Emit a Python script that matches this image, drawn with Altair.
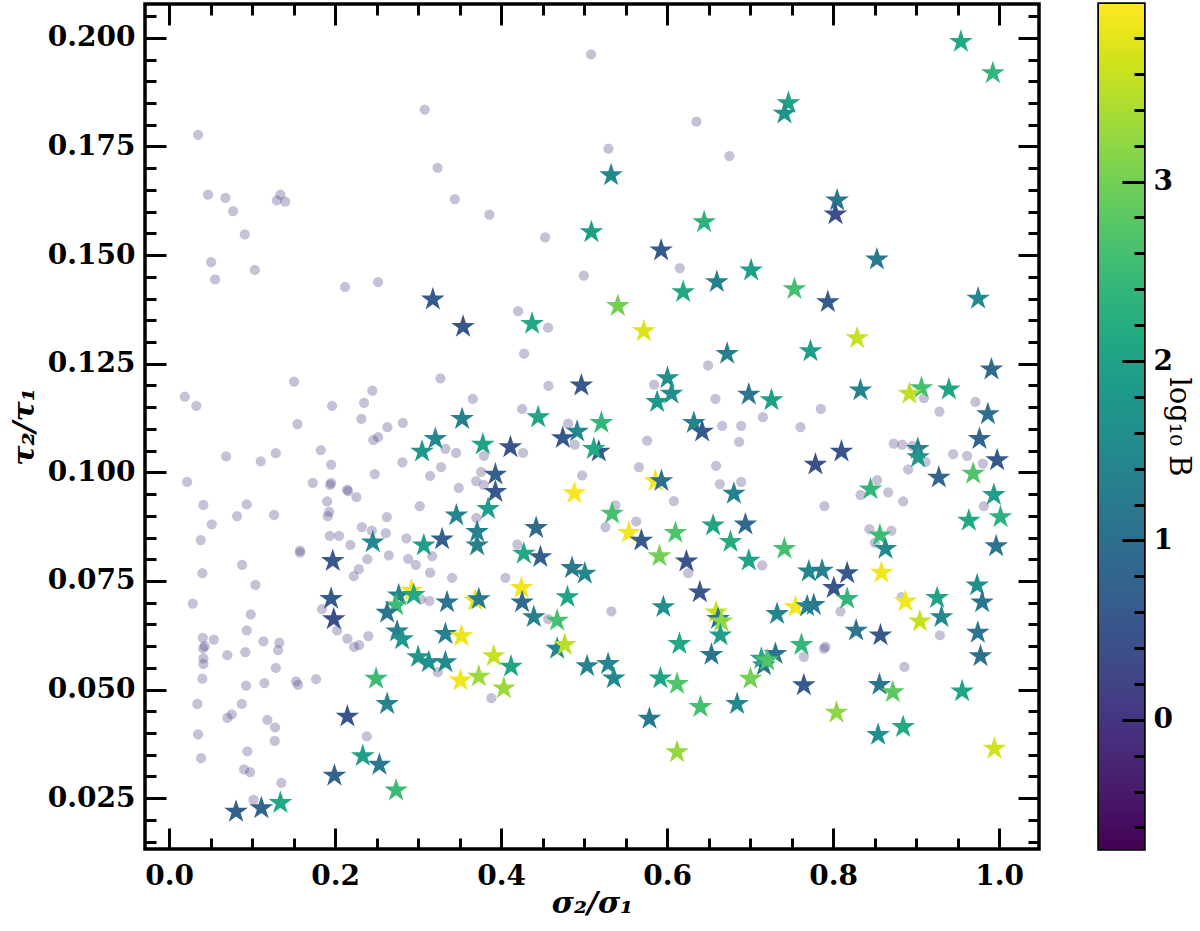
import math
import altair as alt
import pandas as pd
import numpy as np

# ---------------- data ----------------
circ_x = [0.035,0.308,0.3235,0.047,0.0678,0.0771,0.1341,0.1298,0.1398,0.0912,0.0506,0.1033,0.0554,0.212,0.2518,
0.5084,0.6353,0.5293,0.675,0.3442,0.3859,0.453,0.4996,0.6153,
0.0189,0.0329,0.1506,0.1546,0.1964,0.2449,0.2349,0.2317,0.263,0.2518,0.2461,0.2816,0.0687,0.1105,0.1286,0.1828,0.1952,0.2811,0.2478,0.3145,0.3269,0.3277,0.0217,0.1731,0.1952,0.194,0.2145,0.2157,0.2257,0.1904,0.0413,0.0936,0.0819,0.1265,0.1928,0.1912,0.2623,0.302,0.0514,0.2322,0.2442,0.2611,0.1936,0.2048,0.0382,0.2859,0.2184,0.1578,0.1578,0.2647,0.2389,0.288,0.2972,0.3169,0.088,0.0401,0.2286,0.2225,0.3145,0.104,
0.4205,0.4566,0.4277,0.457,0.3659,0.4253,0.5843,0.6494,0.6582,0.6663,0.6892,0.6867,0.4807,0.4888,0.5759,0.3329,0.3458,0.3792,0.4265,0.3759,0.3699,0.3792,0.349,0.4976,0.5659,0.659,0.6635,0.6892,0.6081,0.5377,0.3702,0.5627,0.5257,0.4196,0.341,0.4052,0.6253,
0.7852,0.7153,0.7606,0.9714,0.9281,0.9093,0.8731,0.8831,0.8952,0.9112,0.8904,0.9446,0.9614,0.9804,0.853,0.8329,0.8663,0.8843,0.7895,0.9816,0.8437,0.8702,0.8502,0.7145,
0.0286,0.0984,0.0406,0.0539,0.043,0.041,0.0936,0.1136,0.1329,0.1313,0.0702,0.0919,0.0413,0.0413,0.1286,0.0401,0.0928,0.1148,0.153,0.1554,0.1771,0.0341,0.0876,0.0755,0.0702,0.1184,0.1277,0.0349,0.1273,0.0386,0.0943,0.0904,0.0976,0.1353,0.1016,0.2382,0.1843,0.2024,0.2148,0.2229,0.2289,0.2401,0.3033,0.3136,0.3237,
0.5329,0.4566,0.3883,
0.8088,0.8823,0.9286,0.7888,0.7907,0.7647,0.8859]
circ_y = [0.1777,0.1835,0.1701,0.1639,0.1632,0.1601,0.1639,0.1626,0.1623,0.1548,0.1484,0.1466,0.1444,0.1427,0.1438,
0.1962,0.1807,0.1745,0.1728,0.1629,0.1593,0.1541,0.1453,0.147,
0.1174,0.1153,0.1209,0.1111,0.1153,0.1188,0.116,0.1123,0.1104,0.1081,0.1074,0.1114,0.1037,0.1025,0.1044,0.1051,0.1018,0.1023,0.0996,0.0992,0.1216,0.1012,0.0978,0.0976,0.0976,0.0971,0.096,0.0957,0.0943,0.0933,0.0925,0.0926,0.0899,0.0902,0.0909,0.0899,0.0897,0.0922,0.088,0.0874,0.0866,0.086,0.0854,0.0854,0.0844,0.0848,0.0833,0.082,0.0815,0.0809,0.08,0.0801,0.0787,0.0807,0.0787,0.0768,0.0777,0.0761,0.0769,0.0741,
0.1371,0.1333,0.1273,0.1199,0.1169,0.1146,0.1202,0.1246,0.1169,0.1107,0.1107,0.107,0.1112,0.1064,0.1073,0.1054,0.1045,0.1038,0.1045,0.1001,0.098,0.0971,0.0964,0.0993,0.1012,0.1015,0.0973,0.0978,0.0934,0.0924,0.0895,0.0887,0.0874,0.0834,0.0757,0.0757,0.0768,
0.1146,0.1127,0.1104,0.1162,0.114,0.1171,0.1066,0.1064,0.1061,0.1024,0.1007,0.1042,0.1038,0.102,0.0982,0.0948,0.0954,0.0933,0.0922,0.0922,0.0869,0.0866,0.0838,0.0786,
0.0698,0.0673,0.0619,0.0615,0.06,0.0595,0.0636,0.0611,0.0608,0.0591,0.0579,0.0586,0.0572,0.0559,0.055,0.0525,0.0509,0.0515,0.0519,0.0511,0.0524,0.0467,0.0467,0.0443,0.0435,0.043,0.0413,0.0397,0.0382,0.0342,0.0358,0.0316,0.031,0.0285,0.0246,0.0392,0.0685,0.0636,0.0617,0.0598,0.0602,0.0623,0.0708,0.0704,0.054,
0.068,0.0662,0.048,
0.068,0.0713,0.0625,0.0594,0.0598,0.0575,0.0552]

star_x = [0.3177,0.5325,0.5088,0.6446,0.5928,0.6193,0.6599,0.9539,0.9924,0.7461,
0.7413,0.8048,0.8028,0.8527,0.7012,0.7534,0.7936,0.9747,0.3542,0.4373,
0.5406,0.5719,0.6723,0.4967,0.6004,0.6052,0.588,0.353,0.4446,0.5208,
0.4916,0.4743,0.6322,0.6422,0.378,0.4112,0.5177,0.5117,0.3931,0.3931,
0.4883,0.5859,0.5931,0.6804,0.3843,0.3461,0.5337,0.3711,0.3711,0.4422,
0.5539,0.569,0.61,0.6554,0.6763,0.6943,0.3289,0.4273,0.4473,0.5907,
0.6233,0.4855,0.5008,0.4245,0.6984,0.6394,0.8289,0.7727,0.9907,0.6984,
0.7257,0.8329,0.9064,0.8919,0.9394,0.9864,0.9763,0.9976,0.81,0.7787,
0.902,0.9024,0.9273,0.9687,0.845,0.9936,1.0016,0.9635,0.8563,0.863,
0.9964,0.7413,0.7707,0.7867,0.8169,0.8008,0.8582,0.9735,0.1952,0.1984,
0.2919,0.2767,0.2948,0.2735,0.2627,0.3349,0.2747,0.2807,0.3329,0.3,
0.3129,0.3329,0.2494,0.2627,0.2148,0.2334,0.2534,0.1992,0.2735,0.0807,
0.1112,0.1341,0.369,0.3731,0.4253,0.4799,0.4394,0.4675,0.3522,0.4675,
0.4767,0.3912,0.412,0.351,0.3731,0.4033,0.5036,0.5289,0.5358,0.5955,
0.659,0.6614,0.6654,0.6642,0.6148,0.6534,0.5919,0.612,0.6401,0.6843,
0.5787,0.612,0.9795,0.8169,0.7325,0.7546,0.7687,0.7767,0.8871,0.9253,
0.9305,0.9045,0.8277,0.857,0.9743,0.9775,0.7618,0.7305,0.7165,0.7136,
0.7205,0.7004,0.7647,0.8558,0.8719,0.9554,0.804,0.8542,0.8843,0.9943,
0.3208,0.3048,0.2454,0.3069,0.1972]
star_y = [0.1398,0.1684,0.1553,0.1576,0.1511,0.1415,0.1438,0.1991,0.1919,0.185,
0.1826,0.1626,0.1594,0.149,0.1465,0.1422,0.1392,0.14,0.1335,0.1342,
0.1383,0.1325,0.1273,0.12,0.1217,0.1181,0.1162,0.1123,0.1127,0.1114,
0.1094,0.1079,0.1114,0.1094,0.1064,0.1058,0.1048,0.1054,0.0995,0.0955,
0.0952,0.098,0.098,0.0951,0.0916,0.0901,0.0905,0.0863,0.0832,0.0872,
0.0861,0.0843,0.0861,0.0878,0.084,0.088,0.0846,0.0813,0.0805,0.0807,
0.0795,0.078,0.0767,0.0734,0.0797,0.0724,0.1309,0.1279,0.1237,0.1179,
0.1166,0.1189,0.1194,0.1181,0.1191,0.1134,0.1077,0.1028,0.1048,0.1018,
0.1054,0.1035,0.0988,0.0997,0.0961,0.0948,0.0897,0.0889,0.0855,0.0824,
0.083,0.0824,0.0772,0.0774,0.0768,0.0734,0.0769,0.074,0.0709,0.0662,
0.0728,0.0717,0.0718,0.0694,0.0677,0.0701,0.0634,0.0616,0.0628,0.0575,
0.0563,0.0563,0.0525,0.0467,0.0438,0.0347,0.0327,0.0302,0.0268,0.0219,
0.0227,0.0239,0.0705,0.0708,0.0701,0.0713,0.0667,0.0659,0.0623,0.0594,
0.0603,0.0577,0.0553,0.0521,0.053,0.0503,0.0554,0.0559,0.0526,0.069,
0.0678,0.0663,0.0657,0.0625,0.0605,0.058,0.0526,0.0513,0.046,0.0467,
0.0433,0.0356,0.0701,0.0709,0.0674,0.069,0.0692,0.0695,0.0703,0.0711,
0.0667,0.0657,0.0636,0.0625,0.0631,0.0577,0.0603,0.0582,0.0556,0.0571,
0.0567,0.0525,0.051,0.0511,0.0494,0.0496,0.0447,0.0396,0.0414,0.0364,
0.1077,0.1048,0.0839,0.0832,0.0796]
star_logB = [0.6,1.5,1.9,2.3,0.6,2.1,1.3,2.1,2.4,2.0,
1.7,1.1,0.4,1.2,1.9,2.6,0.6,1.5,0.5,2.1,
3.0,3.75,1.3,0.6,1.6,1.6,1.8,1.3,2.0,2.4,
1.5,0.5,1.4,0.6,2.0,0.5,0.6,2.1,0.7,0.6,
3.95,3.9,1.0,1.3,1.9,1.4,2.6,1.3,1.3,0.9,
3.9,0.6,2.7,2.0,2.2,0.9,0.7,2.1,0.7,3.0,
0.5,1.2,1.4,3.9,2.0,0.5,3.6,1.9,0.9,1.1,
1.9,1.4,2.6,3.55,2.0,1.0,0.8,0.6,0.5,0.4,
1.3,1.8,0.8,2.7,2.4,1.9,2.3,2.1,2.5,1.5,
1.1,2.6,1.4,1.3,0.6,0.5,3.9,1.6,0.6,0.4,
3.9,1.4,2.1,2.5,1.1,1.1,1.3,1.8,1.3,1.8,
1.6,1.5,2.5,1.4,0.5,1.9,1.2,0.8,2.5,0.7,
0.8,2.1,3.8,1.2,0.9,2.0,1.3,2.6,3.85,1.4,
3.5,3.6,2.0,3.9,3.3,3.3,1.4,1.4,1.5,1.6,
3.6,1.1,3.2,1.9,2.1,1.1,2.0,2.7,2.6,1.5,
1.2,3.25,1.1,2.4,1.4,3.9,1.3,1.2,3.9,2.0,
1.5,3.6,1.1,0.55,1.1,1.0,2.4,1.1,1.0,2.1,
2.7,3.0,0.6,1.1,2.8,2.0,3.2,1.6,2.1,3.65,
1.5,1.8,1.5,1.9,0.6]

x_major = [0.0, 0.2, 0.4, 0.6, 0.8, 1.0]
y_major = [0.025, 0.05, 0.075, 0.1, 0.125, 0.15, 0.175, 0.2]
cb_major = [0, 1, 2, 3]

X_DOMAIN = [-0.029, 1.048]
Y_DOMAIN = [0.0133, 0.2078]
CB_DOMAIN = [-0.72, 3.99]

# minor tick positions (axis decoration)
x_minor = [round(i * 0.05, 3) for i in range(0, 21) if i % 4]
y_minor = [round(i * 0.005, 3) for i in range(3, 42) if i % 5]
cb_minor = [round(i * 0.2, 1) for i in range(-3, 20) if i % 5]

circ_df = pd.DataFrame({"x": circ_x, "y": circ_y})
star_df = pd.DataFrame({"x": star_x, "y": star_y, "logB": star_logB})

# five-pointed star path in the unit box
pts = []
for k in range(5):
    a = math.radians(72 * k)
    b = math.radians(72 * k + 36)
    pts.append((math.sin(a), -math.cos(a)))
    pts.append((0.382 * math.sin(b), -0.382 * math.cos(b)))
STAR = "M" + "L".join(f"{px:.4f},{py:.4f}" for px, py in pts) + "Z"

FONT = "DejaVu Serif"
W, H = 894, 845
xs = alt.Scale(domain=X_DOMAIN, nice=False, zero=False)
ys = alt.Scale(domain=Y_DOMAIN, nice=False, zero=False)
cbs = alt.Scale(domain=CB_DOMAIN, nice=False, zero=False)
cbx = alt.Scale(domain=[0, 1], nice=False, zero=False)
cs = alt.Scale(scheme="viridis", domain=CB_DOMAIN)


def tick_axis(orient, values, size):
    return alt.Axis(orient=orient, values=values, labels=False, domain=False, grid=False,
                    title=None, ticks=True, tickSize=size, tickWidth=3, tickColor="black",
                    offset=-size, minExtent=0, maxExtent=size, zindex=2)


circ = alt.Chart(circ_df).mark_circle(size=105, color="#46317e", opacity=0.3, clip=True).encode(
    x=alt.X("x:Q", scale=xs, axis=alt.Axis(
        orient="bottom", values=x_major, format=".1f", ticks=False, domain=False, grid=False,
        labelPadding=13, title="σ₂/σ₁", titleY=54, titleBaseline="middle")),
    y=alt.Y("y:Q", scale=ys, axis=alt.Axis(
        orient="left", values=y_major, format=".3f", ticks=False, domain=False, grid=False,
        labelPadding=10, title="τ₂/τ₁", titleX=-121, titleY=H / 2, titleAngle=270,
        titleBaseline="middle", titleAlign="center")),
)

stars = alt.Chart(star_df).mark_point(shape=STAR, size=620, filled=True, opacity=1,
                                      strokeWidth=0, clip=True).encode(
    x=alt.X("x:Q", scale=xs, axis=tick_axis("bottom", x_major, 21)),
    y=alt.Y("y:Q", scale=ys, axis=tick_axis("left", y_major, 21)),
    color=alt.Color("logB:Q", scale=cs, legend=None),
)

inv1 = alt.Chart(star_df).mark_point(opacity=0, clip=True).encode(
    x=alt.X("x:Q", scale=xs, axis=tick_axis("top", x_major, 21)),
    y=alt.Y("y:Q", scale=ys, axis=tick_axis("right", y_major, 21)),
)
inv2 = alt.Chart(star_df).mark_point(opacity=0, clip=True).encode(
    x=alt.X("x:Q", scale=xs, axis=tick_axis("bottom", x_minor, 11)),
    y=alt.Y("y:Q", scale=ys, axis=tick_axis("left", y_minor, 11)),
)
inv3 = alt.Chart(star_df).mark_point(opacity=0, clip=True).encode(
    x=alt.X("x:Q", scale=xs, axis=tick_axis("top", x_minor, 11)),
    y=alt.Y("y:Q", scale=ys, axis=tick_axis("right", y_minor, 11)),
)

main = alt.layer(circ, stars, inv1, inv2, inv3).resolve_axis(
    x="independent", y="independent").properties(width=W, height=H)

# colour bar
edges = np.linspace(CB_DOMAIN[0], CB_DOMAIN[1], 236)
cb_df = pd.DataFrame({"lo": edges[:-1], "hi": np.minimum(edges[1:] + 0.015, CB_DOMAIN[1]),
                      "mid": (edges[:-1] + edges[1:]) / 2, "x0": 0.0, "x1": 1.0})
cbt_df = pd.DataFrame({"v": cb_major, "x0": 0.5})

cb_rect = alt.Chart(cb_df).mark_rect(strokeWidth=0, clip=True).encode(
    x=alt.X("x0:Q", scale=cbx, axis=None),
    x2="x1:Q",
    y=alt.Y("lo:Q", scale=cbs, axis=alt.Axis(
        orient="right", values=cb_major, format="d", ticks=False, domain=False, grid=False,
        labelPadding=9, title="log₁₀ B", titleFontWeight="normal", titleFontStyle="normal",
        titleFontSize=29, titleX=34, titleY=H / 2, titleAngle=90, titleBaseline="middle",
        titleAlign="center")),
    y2="hi:Q",
    color=alt.Color("mid:Q", scale=cs, legend=None),
)
cb_t1 = alt.Chart(cbt_df).mark_point(opacity=0, clip=True).encode(
    x=alt.X("x0:Q", scale=cbx, axis=None),
    y=alt.Y("v:Q", scale=cbs, axis=tick_axis("right", cb_major, 22)))
cb_t2 = alt.Chart(cbt_df).mark_point(opacity=0, clip=True).encode(
    x=alt.X("x0:Q", scale=cbx, axis=None),
    y=alt.Y("v:Q", scale=cbs, axis=tick_axis("right", cb_minor, 10)))

colorbar = alt.layer(cb_rect, cb_t1, cb_t2).resolve_axis(y="independent").properties(
    width=45, height=H)

chart = alt.hconcat(main, colorbar, spacing=54).properties(
    padding={"left": 7, "top": 0, "right": 4, "bottom": 0}
).configure_view(stroke="black", strokeWidth=3.5).configure_axis(
    labelFont=FONT, labelFontSize=28, labelFontWeight="bold", labelColor="black",
    titleFont=FONT, titleFontSize=30, titleFontWeight="bold", titleFontStyle="italic",
    titleColor="black",
)

chart.save("out.html", embed_options={"renderer": "svg", "actions": False})
